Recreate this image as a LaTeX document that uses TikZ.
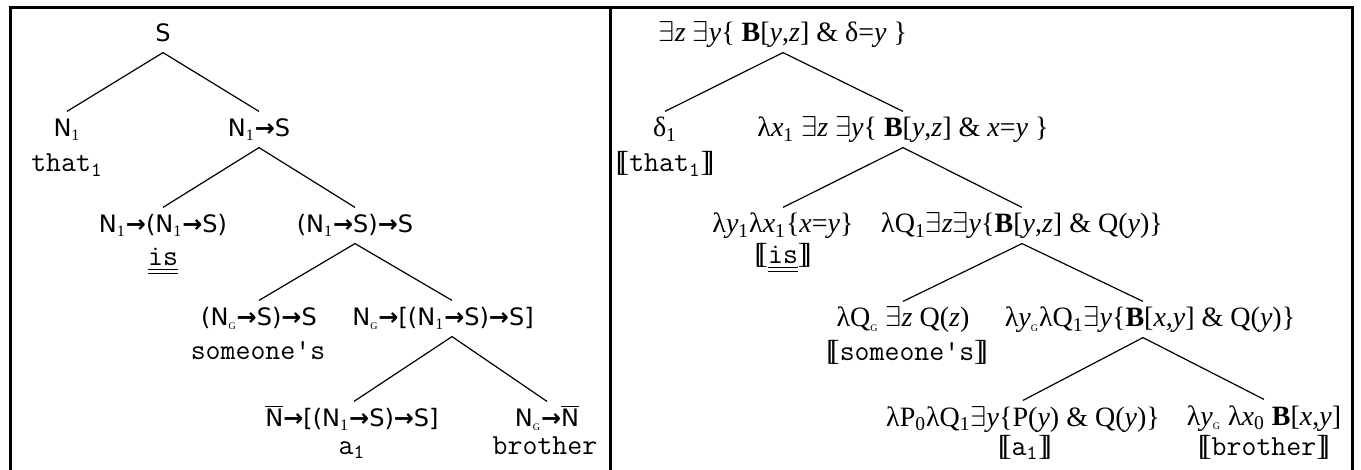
\documentclass[tikz,border=0pt]{standalone}
\usepackage{fontspec}
\setmainfont{Liberation Serif}
\setsansfont{DejaVu Sans}
\usetikzlibrary{positioning}
\newcommand{\exq}{\ensuremath{\exists}}
\newcommand{\lsub}[1]{\textsubscript{\rmfamily #1}}
\newcommand{\gsub}{\textsubscript{\rmfamily\fontsize{5pt}{5pt}\selectfont G}}
\newcommand{\arr}{{\bfseries →}}
\newcommand{\Nbar}{$\overline{\mbox{N}}$}
\newcommand{\den}[1]{{\rmfamily[\kern-0.2em[}#1{\rmfamily]\kern-0.2em]}}
\newcommand{\dul}[1]{$\underline{\underline{\mbox{#1}}}$}
\tikzset{
  every picture/.style={line width=0.6pt},
  cat/.style={anchor=base, inner sep=0pt, text height=12.5pt, text depth=5pt, font=\sffamily\fontsize{12pt}{14pt}\selectfont},
  sem/.style={anchor=base, inner sep=0pt, text height=12.5pt, text depth=5pt, font=\rmfamily\fontsize{14pt}{16pt}\selectfont},
  word/.style={anchor=base, inner sep=0pt, font=\ttfamily\fontsize{14.5pt}{16pt}\selectfont},
  edge/.style={draw=black, line width=0.6pt},
}
\begin{document}
\begin{tikzpicture}[x=0.5pt, y=-0.5pt]
  \useasboundingbox (0,0) rectangle (1361,470);
  \tikzset{frame/.style={line width=1.5pt}}
  % frame
  \draw[frame] (10,470) -- (10,7.5) -- (1352.5,7.5) -- (1352.5,470);
  \draw[frame] (610,7.5) -- (610,470);
  % left tree: categories
  \node[cat] (s) at (163,42) {S};
  \node[cat] (n1) at (67,137) {N\lsub{1}};
  \node[word] (that) at (67,172) {that\textsubscript{1}};
  \node[cat] (n1s) at (259,137) {N\lsub{1}\arr S};
  \node[cat] (cop) at (163,233) {N\lsub{1}\arr(N\lsub{1}\arr S)};
  \node[word] (is) at (163,266) {\dul{is}};
  \node[cat] (n1ss) at (355,233) {(N\lsub{1}\arr S)\arr S};
  \node[cat] (gen) at (259,326) {(N\gsub\arr S)\arr S};
  \node[word] (someone) at (258,360) {someone's};
  \node[cat] (ngq) at (443,326) {N\gsub\arr[(N\lsub{1}\arr S)\arr S]};
  \node[cat] (det) at (352,427) {\Nbar\arr[(N\lsub{1}\arr S)\arr S]};
  \node[word] (a) at (352,454) {a\textsubscript{1}};
  \node[cat] (rel) at (547,427) {N\gsub\arr\Nbar};
  \node[word] (brother) at (545,454) {brother};
  \draw[edge] (s.south) -- (n1.north);
  \draw[edge] (s.south) -- (n1s.north);
  \draw[edge] (n1s.south) -- (cop.north);
  \draw[edge] (n1s.south) -- (n1ss.north);
  \draw[edge] (n1ss.south) -- (gen.north);
  \draw[edge] (n1ss.south) -- ([xshift=4.5pt]ngq.north);
  \draw[edge] ([xshift=4.5pt]ngq.south) -- ([xshift=1pt]det.north);
  \draw[edge] ([xshift=4.5pt]ngq.south) -- (rel.north);
  % right tree: meanings
  \node[sem] (top) at (783,42) {\exq\textit{z} \exq\textit{y}\{ \textbf{B}[\textit{y},\textit{z}] \& δ=\textit{y} \}};
  \node[sem] (dlt) at (665,137) {δ\textsubscript{1}};
  \node[word] (mthat) at (665,172) {\den{that\textsubscript{1}}};
  \node[sem] (lx) at (903,137) {λ\textit{x}\textsubscript{1} \exq\textit{z} \exq\textit{y}\{ \textbf{B}[\textit{y},\textit{z}] \& \textit{x}=\textit{y} \}};
  \node[sem] (ly) at (783,233) {λ\textit{y}\textsubscript{1}λ\textit{x}\textsubscript{1}\{\textit{x}=\textit{y}\}};
  \node[word] (mis) at (783,264) {\den{\dul{is}}};
  \node[sem] (lq) at (1022,233) {λQ\textsubscript{1}\exq\textit{z}\exq\textit{y}\{\textbf{B}[\textit{y},\textit{z}] \& Q(\textit{y})\}};
  \node[sem] (lqg) at (903,327) {λQ\gsub\ \exq\textit{z} Q(\textit{z})};
  \node[word] (msomeone) at (907,361) {\den{someone's}};
  \node[sem] (lyg) at (1150,327) {λ\textit{y}\gsub λQ\textsubscript{1}\exq\textit{y}\{\textbf{B}[\textit{x},\textit{y}] \& Q(\textit{y})\}};
  \node[sem] (lp) at (1023,426) {λP\textsubscript{0}λQ\textsubscript{1}\exq\textit{y}\{P(\textit{y}) \& Q(\textit{y})\}};
  \node[word] (ma) at (1025,455) {\den{a\textsubscript{1}}};
  \node[sem] (lb) at (1264,425) {λ\textit{y}\gsub\ λ\textit{x}\textsubscript{0} \textbf{B}[\textit{x},\textit{y}]};
  \node[word] (mbrother) at (1264,455) {\den{brother}};
  \draw[edge] (top.south) -- (dlt.north);
  \draw[edge] (top.south) -- (lx.north);
  \draw[edge] (lx.south) -- (ly.north);
  \draw[edge] (lx.south) -- (lq.north);
  \draw[edge] (lq.south) -- (lqg.north);
  \draw[edge] (lq.south) -- ([xshift=-3.5pt]lyg.north);
  \draw[edge] ([xshift=-3.5pt]lyg.south) -- (lp.north);
  \draw[edge] ([xshift=-3.5pt]lyg.south) -- (lb.north);
\end{tikzpicture}
\end{document}
